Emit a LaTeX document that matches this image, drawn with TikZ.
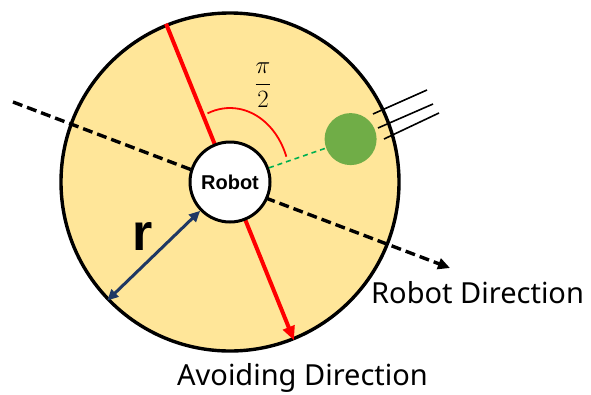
\documentclass[tikz,border=0pt]{standalone}
\usepackage{fontspec}
\setmainfont{Noto Sans}
\newfontfamily\boldsans{Liberation Sans}
\usetikzlibrary{arrows.meta}
\definecolor{areaY}{HTML}{FFE699}
\definecolor{navyB}{HTML}{1F3864}
\definecolor{leafG}{HTML}{70AD47}
\definecolor{dashG}{HTML}{00B050}
\tikzset{
  zone/.style={circle, draw=black, line width=3.4pt, fill=areaY, minimum size=338pt, inner sep=0pt},
  robotnode/.style={circle, draw=black, line width=3pt, fill=white, minimum size=80pt, inner sep=0pt, font=\boldsans\bfseries\fontsize{20}{24}\selectfont},
  ball/.style={circle, fill=leafG, minimum size=52pt, inner sep=0pt},
  robotdir/.style={line width=3.4pt, dash pattern=on 10pt off 5pt, -{Triangle[length=12pt,width=11pt]}},
  avoiddir/.style={red, line width=4pt, -{Triangle[length=14pt,width=12pt]}},
  greendash/.style={dashG, line width=1.6pt, dash pattern=on 5pt off 4pt},
  anglearc/.style={red, line width=1.8pt},
  radiusarrow/.style={navyB, line width=3pt, {Triangle[length=11pt,width=10pt]}-{Triangle[length=11pt,width=10pt]}},
  ray/.style={black, line width=1.6pt},
  biglabel/.style={font=\fontsize{29}{34}\selectfont, inner sep=0pt, anchor=base west}
}
\begin{document}
\begin{tikzpicture}[x=1pt,y=-1pt]
\useasboundingbox (0,0) rectangle (591,394);
\node[zone] (area) at (230,182) {};
\coordinate (dirstart) at (13,102);
\coordinate (dirend) at (450,268);
\draw[robotdir] (dirstart) -- (dirend);
\draw[avoiddir] (area.112) -- (area.-68);
\node[robotnode] (robot) at (230,182) {Robot};
\node[ball] (ball) at (350.6,139.1) {};
\draw[greendash] (robot.20) -- (ball.200);
\draw[anglearc] (robot.center) ++(-22.5,-68.6) arc[start angle=112, end angle=20, x radius=60pt, y radius=74pt];
\node[inner sep=0pt, font=\fontsize{24}{28}\selectfont] (halfpi) at (263,85) {$\displaystyle\frac{\pi}{2}$};
\draw[radiusarrow] (robot.224) -- (area.224);
\node[font=\boldsans\bfseries\fontsize{52}{54}\selectfont, inner sep=0pt, anchor=base] (rlabel) at (143,250) {r};
\coordinate (r1a) at (373,114); \coordinate (r1b) at (427,90);
\coordinate (r2a) at (378,128); \coordinate (r2b) at (433,104);
\coordinate (r3a) at (384,139); \coordinate (r3b) at (439,113);
\draw[ray] (r1a) -- (r1b);
\draw[ray] (r2a) -- (r2b);
\draw[ray] (r3a) -- (r3b);
\node[biglabel] (rdlabel) at (371,303) {Robot Direction};
\node[biglabel] (adlabel) at (177,385) {Avoiding Direction};
\end{tikzpicture}
\end{document}
